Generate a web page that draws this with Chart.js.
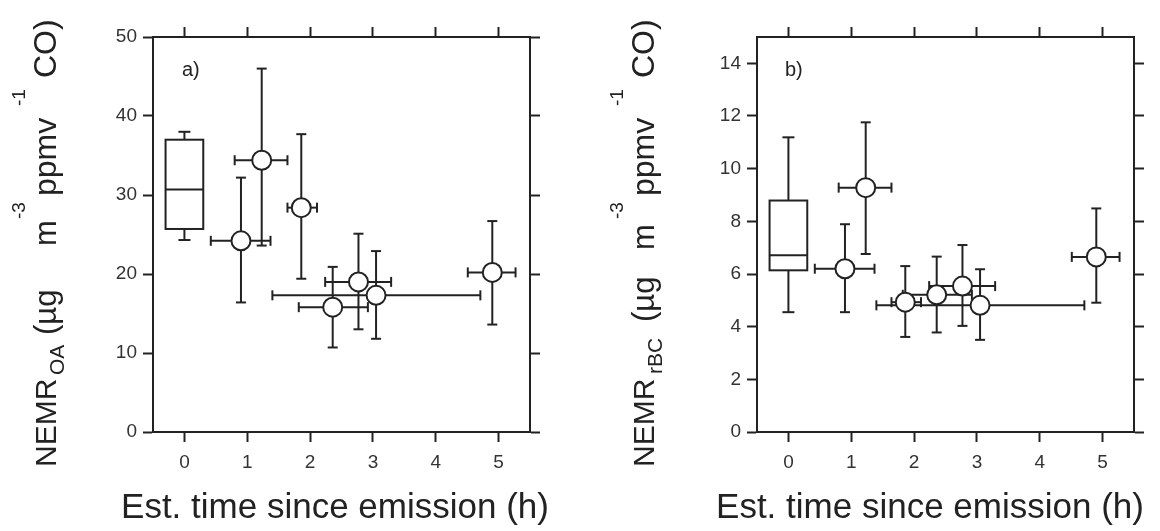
<!DOCTYPE html>
<html>
<head>
<meta charset="utf-8">
<script src="https://cdn.jsdelivr.net/npm/chart.js@4.4.0/dist/chart.umd.min.js"></script>
<style>
html,body{margin:0;padding:0;background:#fff;}
#wrap{position:relative;width:1160px;height:531px;overflow:hidden;}
.panel{position:absolute;top:0;width:580px;height:531px;}
</style>
</head>
<body>
<div id="wrap">
  <div class="panel" style="left:0"><canvas id="grafOA" width="580" height="531"></canvas></div>
  <div class="panel" style="left:580px"><canvas id="grafBC" width="580" height="531"></canvas></div>
</div>
<script>
/* =====================================
   DATA
===================================== */

// est. time since emission (h), with its x error range
const hours    = [0.90, 1.23, 1.86, 2.36, 2.77, 3.05, 4.90];
const hoursLow = [0.42, 0.80, 1.64, 1.82, 2.24, 1.40, 4.51];
const hoursHigh= [1.37, 1.64, 2.11, 2.92, 3.29, 4.71, 5.27];

// NEMR OA
const oa     = [24.2, 34.4, 28.4, 15.8, 19.0, 17.3, 20.2];
const oaLow  = [16.4, 23.6, 19.4, 10.7, 13.0, 11.8, 13.6];
const oaHigh = [32.2, 46.0, 37.7, 20.9, 25.1, 22.9, 26.7];

// NEMR rBC
const bc     = [6.20, 9.28, 4.93, 5.21, 5.54, 4.81, 6.65];
const bcLow  = [4.55, 6.76, 3.61, 3.78, 4.03, 3.50, 4.91];
const bcHigh = [7.89, 11.76, 6.30, 6.66, 7.10, 6.18, 8.49];

// box at time 0: whisker low, q1, median, q3, whisker high
const boxOA = [24.3, 25.7, 30.7, 37.0, 38.0];
const boxBC = [4.55, 6.14, 6.71, 8.79, 11.19];

const ticksX  = [0, 1, 2, 3, 4, 5];
const ticksOA = [0, 10, 20, 30, 40, 50];
const ticksBC = [0, 2, 4, 6, 8, 10, 12, 14];

/* =====================================
   STYLE
===================================== */

const INK = "#222";
const FONT = "'Liberation Sans', Arial, sans-serif";

/* =====================================
   ERROR BARS + BOX
===================================== */

const errorBars = {

    id: "errorBars",

    beforeDatasetsDraw(chart, args, opts){

        const ctx = chart.ctx;
        const sx = chart.scales.x;
        const sy = chart.scales.y;

        ctx.save();
        ctx.strokeStyle = INK;
        ctx.lineWidth = 2;

        const line = (x1, y1, x2, y2) => {
            ctx.beginPath();
            ctx.moveTo(x1, y1);
            ctx.lineTo(x2, y2);
            ctx.stroke();
        };

        // box plot
        const b = opts.box;
        const xc = sx.getPixelForValue(0);
        const xl = sx.getPixelForValue(-0.3);
        const xr = sx.getPixelForValue(0.3);
        const yq1 = sy.getPixelForValue(b[1]);
        const yq3 = sy.getPixelForValue(b[3]);

        line(xc, sy.getPixelForValue(b[0]), xc, yq1);
        line(xc, yq3, xc, sy.getPixelForValue(b[4]));
        line(xc - 6, sy.getPixelForValue(b[0]), xc + 6, sy.getPixelForValue(b[0]));
        line(xc - 6, sy.getPixelForValue(b[4]), xc + 6, sy.getPixelForValue(b[4]));

        ctx.fillStyle = "#fff";
        ctx.fillRect(xl, yq3, xr - xl, yq1 - yq3);
        ctx.strokeRect(xl, yq3, xr - xl, yq1 - yq3);

        line(xl, sy.getPixelForValue(b[2]), xr, sy.getPixelForValue(b[2]));

        // error bars
        const cap = 5;

        opts.x.forEach((t, i) => {

            const px = sx.getPixelForValue(t);
            const py = sy.getPixelForValue(opts.y[i]);

            const yLo = sy.getPixelForValue(opts.yLow[i]);
            const yHi = sy.getPixelForValue(opts.yHigh[i]);
            const xLo = sx.getPixelForValue(opts.xLow[i]);
            const xHi = sx.getPixelForValue(opts.xHigh[i]);

            line(px, yLo, px, yHi);
            line(px - cap, yLo, px + cap, yLo);
            line(px - cap, yHi, px + cap, yHi);

            line(xLo, py, xHi, py);
            line(xLo, py - cap, xLo, py + cap);
            line(xHi, py - cap, xHi, py + cap);

        });

        ctx.restore();

    }

};

/* =====================================
   TITLES (sub / superscripts)
   built per panel, kept out of the
   chart options resolver
===================================== */

function makeTitles(t){

    return {

        id: "titles",

        afterDraw(chart){

            const ctx = chart.ctx;

            ctx.save();
            ctx.fillStyle = INK;
            ctx.textBaseline = "alphabetic";

            // x title
            ctx.font = "35px " + FONT;
            ctx.textAlign = "center";
            ctx.fillText(t.xTitle, t.xTitleX, 518);

            // panel letter
            ctx.font = "20px " + FONT;
            ctx.textAlign = "left";
            ctx.fillText(t.letter, t.letterX, 76);

            // y title, rotated, piece by piece
            t.yParts.forEach(p => {

                ctx.save();
                ctx.font = p.size + "px " + FONT;
                ctx.translate(t.yBase + p.shift, p.at);
                ctx.rotate(-Math.PI / 2);
                ctx.fillText(p.text, 0, 0);
                ctx.restore();

            });

            ctx.restore();

        }

    };

}

/* =====================================
   PANEL
===================================== */

function makePanel(id, cfg){

    const fixTicks = list => scale => {
        scale.ticks = list.map(v => ({value: v}));
    };

    const grid = {
        drawOnChartArea: false,
        tickLength: 10,
        tickWidth: 2,
        tickColor: INK
    };

    const border = {display: true, color: INK, width: 2};

    const tickFont = {family: FONT, size: 19};

    return new Chart(

        document.getElementById(id),

        {

            type: "scatter",

            data: {

                datasets: [{

                    data: hours.map((t, i) => ({x: t, y: cfg.values[i]})),

                    pointRadius: 9.5,
                    pointHoverRadius: 9.5,
                    pointBackgroundColor: "#fff",
                    pointBorderColor: INK,
                    pointBorderWidth: 2

                }]

            },

            options: {

                responsive: false,
                animation: false,
                devicePixelRatio: 1,

                layout: {padding: 0},

                plugins: {

                    legend: {display: false},
                    tooltip: {enabled: false},

                    errorBars: {
                        x: hours,
                        xLow: hoursLow,
                        xHigh: hoursHigh,
                        y: cfg.values,
                        yLow: cfg.low,
                        yHigh: cfg.high,
                        box: cfg.box
                    }

                },

                scales: {

                    x: {
                        type: "linear",
                        position: "bottom",
                        min: -0.5,
                        max: 5.5,
                        afterBuildTicks: fixTicks(ticksX),
                        afterFit: s => { s.height = 99; },
                        grid: grid,
                        border: border,
                        ticks: {padding: 9, color: "#333", font: tickFont}
                    },

                    x2: {
                        type: "linear",
                        position: "top",
                        display: true,
                        min: -0.5,
                        max: 5.5,
                        afterBuildTicks: fixTicks(ticksX),
                        afterFit: s => { s.height = 37; },
                        grid: grid,
                        border: border,
                        ticks: {display: false}
                    },

                    y: {
                        type: "linear",
                        position: "left",
                        min: 0,
                        max: cfg.yMax,
                        afterBuildTicks: fixTicks(cfg.yTicks),
                        afterFit: s => { s.width = cfg.left; },
                        grid: grid,
                        border: border,
                        ticks: {padding: 6, color: "#333", font: tickFont}
                    },

                    y2: {
                        type: "linear",
                        position: "right",
                        display: true,
                        min: 0,
                        max: cfg.yMax,
                        afterBuildTicks: fixTicks(cfg.yTicks),
                        afterFit: s => { s.width = cfg.right; },
                        grid: grid,
                        border: border,
                        ticks: {display: false}
                    }

                }

            },

            plugins: [errorBars, makeTitles(cfg.titles)]

        }

    );

}

/* =====================================
   BUILD
===================================== */

makePanel("grafOA", {
    values: oa,
    low: oaLow,
    high: oaHigh,
    box: boxOA,
    yMax: 50,
    yTicks: ticksOA,
    left: 153,
    right: 50,
    titles: {
        xTitle: "Est. time since emission (h)",
        xTitleX: 335,
        letter: "a)",
        letterX: 182,
        yBase: 56,
        yParts: [
            {text: "NEMR", at: 467, size: 30, shift: 0},
            {text: "OA", at: 375, size: 21, shift: 8},
            {text: "(\u00b5g", at: 335, size: 31, shift: 0},
            {text: "m", at: 246, size: 31, shift: 0},
            {text: "-3", at: 219, size: 19, shift: -31},
            {text: "ppmv", at: 196, size: 32, shift: 0},
            {text: "-1", at: 106, size: 19, shift: -31},
            {text: "CO)", at: 78, size: 32, shift: 0}
        ]
    }
});

makePanel("grafBC", {
    values: bc,
    low: bcLow,
    high: bcHigh,
    box: boxBC,
    yMax: 15,
    yTicks: ticksBC,
    left: 177,
    right: 26,
    titles: {
        xTitle: "Est. time since emission (h)",
        xTitleX: 350,
        letter: "b)",
        letterX: 205,
        yBase: 74,
        yParts: [
            {text: "NEMR", at: 467, size: 30, shift: 0},
            {text: "rBC", at: 374, size: 21, shift: 8},
            {text: "(\u00b5g", at: 322, size: 31, shift: 0},
            {text: "m", at: 250, size: 31, shift: 0},
            {text: "-3", at: 219, size: 19, shift: -31},
            {text: "ppmv", at: 196, size: 32, shift: 0},
            {text: "-1", at: 106, size: 19, shift: -31},
            {text: "CO)", at: 78, size: 32, shift: 0}
        ]
    }
});
</script>
</body>
</html>
